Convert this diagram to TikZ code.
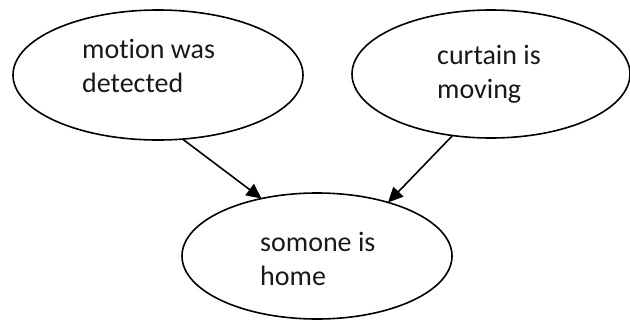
\documentclass[tikz,border=0pt]{standalone}
\usepackage{fontspec}
\setmainfont{Carlito}[Ligatures={NoCommon,NoRare}]
\usetikzlibrary{shapes.geometric,arrows.meta}
\tikzset{
  blob/.style={draw, ellipse, line width=1.6pt, inner sep=0pt, outer sep=0pt},
  txt/.style={align=left, inner sep=0pt, anchor=base west, text=black!90,
              font=\fontsize{28}{34}\selectfont},
  link/.style={line width=1.6pt, -{Triangle[length=15pt,width=14pt]}}
}
\begin{document}
\begin{tikzpicture}[x=1pt,y=-1pt]
  \useasboundingbox (0,0) rectangle (630,322);
  % the three events
  \node[blob, minimum width=290pt, minimum height=130pt] (motion)  at (158,75)  {};
  \node[blob, minimum width=278pt, minimum height=128pt] (curtain) at (491,74)  {};
  \node[blob, minimum width=270pt, minimum height=126pt] (home)    at (317,256) {};
  % their labels (anchored at the baseline of the last line)
  \node[txt] (motiontxt)  at (82,92)   {motion was\\detected};
  \node[txt] (curtaintxt) at (437,98)  {curtain is\\moving};
  \node[txt] (hometxt)    at (260,285) {somone is\\home};
  % causal links
  \draw[link] (motion.-69)   -- (home.134);
  \draw[link] (curtain.-122) -- (home.37);
\end{tikzpicture}
\end{document}
